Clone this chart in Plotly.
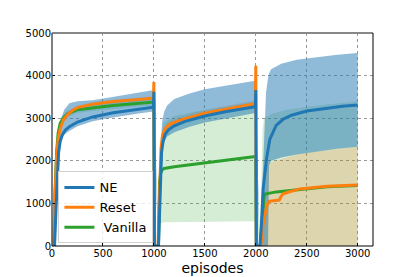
import plotly.graph_objects as go

# ---------------- data (episode, value) ----------------
ne_x = [0, 25, 40, 55, 65, 80, 100, 130, 170, 250, 400, 600, 800, 995, 1000,
        1005, 1045, 1055, 1065, 1075, 1090, 1110, 1140, 1200, 1300, 1500, 1700, 1900, 1995, 2000,
        2005, 2040, 2055, 2072, 2090, 2105, 2137, 2170, 2200, 2270, 2350, 2500, 2700, 2850, 3000]
ne_mean = [0, 0, 900, 1800, 2200, 2450, 2600, 2720, 2800, 2910, 3030, 3130, 3200, 3260, 3620,
           0, 0, 900, 1700, 2200, 2450, 2620, 2720, 2820, 2920, 3050, 3150, 3230, 3270, 3660,
           0, 0, 500, 1340, 1800, 2040, 2500, 2680, 2830, 2980, 3070, 3170, 3240, 3280, 3310]

ne_band_x = [25, 40, 55, 70, 90, 120, 170, 250, 400, 550, 700, 850, 995, 1000,
             1045, 1055, 1065, 1080, 1100, 1130, 1200, 1350, 1500, 1700, 1850, 1995,
             2040, 2055, 2070, 2085, 2100, 2120, 2130, 2150, 2250, 2400, 2600, 2800, 3000]
ne_upper = [0, 1100, 2100, 2700, 3000, 3200, 3350, 3400, 3420, 3480, 3540, 3600, 3660, 3660,
            0, 1200, 2200, 2900, 3150, 3300, 3450, 3580, 3680, 3760, 3830, 3880,
            0, 900, 2000, 3000, 3600, 3950, 4050, 4150, 4280, 4370, 4430, 4490, 4530]
ne_lower = [0, 800, 1700, 2300, 2500, 2620, 2700, 2810, 2930, 3000, 3060, 3110, 3160, 3160,
            0, 800, 1550, 2250, 2450, 2570, 2670, 2800, 2900, 3000, 3060, 3120,
            0, 0, 0, 0, 0, 0, 1900, 2000, 2080, 2150, 2220, 2280, 2330]

reset_x = [0, 15, 30, 45, 60, 80, 110, 150, 200, 250, 400, 600, 800, 995, 1000,
           1005, 1040, 1050, 1060, 1070, 1085, 1110, 1150, 1250, 1500, 1750, 1995, 2000,
           2005, 2050, 2065, 2088, 2110, 2130, 2230, 2245, 2265, 2300, 2350, 2430, 2700, 3000]
reset_mean = [0, 0, 1200, 2100, 2500, 2750, 2950, 3080, 3180, 3250, 3330, 3390, 3430, 3470, 3850,
              0, 0, 900, 1700, 2300, 2600, 2750, 2850, 2950, 3120, 3230, 3340, 4230,
              0, 0, 400, 710, 950, 1050, 1080, 1150, 1220, 1250, 1280, 1340, 1400, 1430]

reset_band_x = [15, 30, 45, 60, 80, 110, 150, 250, 400, 600, 800, 995, 1000,
                1040, 1050, 1060, 1070, 1085, 1110, 1150, 1250, 1500, 1750, 1995,
                2050, 2090, 2110, 2130, 2200, 2400, 2600, 2800, 3000]
reset_upper = [0, 1300, 2200, 2570, 2810, 3010, 3140, 3300, 3380, 3440, 3480, 3520, 3520,
               0, 1000, 1800, 2400, 2700, 2830, 2930, 3030, 3200, 3310, 3420,
               0, 800, 1900, 1950, 2000, 2150, 2220, 2280, 2330]
reset_lower = [0, 1100, 2000, 2430, 2690, 2890, 3020, 3200, 3280, 3340, 3380, 3420, 3420,
               0, 800, 1600, 2200, 2500, 2670, 2770, 2870, 3040, 3150, 3260,
               0, 0, 0, 0, 0, 0, 0, 0, 0]

vanilla_x = [0, 15, 30, 45, 60, 80, 110, 150, 250, 400, 600, 800, 995, 1000,
             1005, 1045, 1055, 1065, 1080, 1100, 1200, 1400, 1600, 1800, 1950, 1995, 2000,
             2005, 2045, 2080, 2090, 2200, 2330, 2450, 2700, 3000]
vanilla_mean = [0, 0, 1300, 2200, 2650, 2880, 3000, 3100, 3200, 3250, 3300, 3340, 3380, 3380,
                0, 0, 1500, 1700, 1780, 1820, 1860, 1920, 1970, 2030, 2070, 2100, 2100,
                0, 0, 1150, 1220, 1270, 1300, 1330, 1390, 1420]

vanilla_band_x = [15, 30, 45, 60, 80, 110, 150, 250, 400, 600, 800, 995, 1000,
                  1045, 1055, 1070, 1100, 1200, 1400, 1600, 1800, 2000,
                  2040, 2050, 2065, 2080, 2150, 2300, 2600, 3000]
vanilla_upper = [0, 1400, 2300, 2740, 2960, 3080, 3180, 3280, 3330, 3380, 3420, 3460, 3460,
                 0, 2000, 2600, 2900, 3050, 3150, 3230, 3320, 3400,
                 0, 1500, 2700, 3000, 3100, 3200, 3300, 3400]
vanilla_lower = [0, 1200, 2100, 2560, 2800, 2920, 3020, 3120, 3170, 3220, 3260, 3300, 3300,
                 0, 500, 540, 560, 560, 565, 570, 575, 580,
                 0, 0, 0, 0, 0, 0, 0, 0]

x_ticks = [0, 500, 1000, 1500, 2000, 2500, 3000]
y_ticks = [0, 1000, 2000, 3000, 4000, 5000]

BLUE, ORANGE, GREEN = "#1f77b4", "#ff7f0e", "#2ca02c"
FONT = "DejaVu Sans"

fig = go.Figure()


def band(xs, up, lo, color):
    fig.add_trace(go.Scatter(
        x=list(xs) + list(xs)[::-1], y=list(up) + list(lo)[::-1],
        fill="toself", fillcolor=color, line=dict(width=0),
        mode="lines", hoverinfo="skip", showlegend=False))


band(vanilla_band_x, vanilla_upper, vanilla_lower, "rgba(44,160,44,0.2)")
band(reset_band_x, reset_upper, reset_lower, "rgba(255,127,14,0.2)")
band(ne_band_x, ne_upper, ne_lower, "rgba(31,119,180,0.5)")

fig.add_trace(go.Scatter(x=vanilla_x, y=vanilla_mean, mode="lines", name="\u00a0Vanilla",
                         line=dict(color=GREEN, width=3)))
fig.add_trace(go.Scatter(x=reset_x, y=reset_mean, mode="lines", name="Reset",
                         line=dict(color=ORANGE, width=3)))
fig.add_trace(go.Scatter(x=ne_x, y=ne_mean, mode="lines", name="NE",
                         line=dict(color=BLUE, width=3)))

axis_common = dict(
    showgrid=True, gridcolor="#9a9a9a", griddash="dot", gridwidth=0.8,
    zeroline=False, showline=False, ticks="inside", ticklen=3, tickcolor="black",
    tickfont=dict(family=FONT, size=10, color="black"),
)

fig.update_xaxes(range=[0, 3150], tickvals=x_ticks, ticktext=[str(v) for v in x_ticks],
                 title=dict(text="episodes", font=dict(family=FONT, size=14, color="black"),
                            standoff=5),
                 automargin=False, **axis_common)
fig.update_yaxes(range=[0, 5000], tickvals=y_ticks, ticktext=[str(v) for v in y_ticks],
                 automargin=False, **axis_common)

# page body adds an 8px offset, so the figure is sized to land the plot area in place
fig.update_layout(
    width=407, height=269,
    margin=dict(l=44, r=42, t=25, b=31),
    paper_bgcolor="white", plot_bgcolor="white",
    font=dict(family=FONT, color="black"),
    legend=dict(x=0.02, y=0.35, xanchor="left", yanchor="top",
                traceorder="reversed", bgcolor="rgba(255,255,255,0.8)",
                bordercolor="#d0d0d0", borderwidth=1,
                font=dict(family=FONT, size=13, color="black"),
                itemwidth=30, tracegroupgap=0),
    shapes=[
        dict(type="line", xref="paper", yref="paper", x0=0, x1=1, y0=1, y1=1,
             line=dict(color="#888888", width=2), layer="above"),
        dict(type="line", xref="paper", yref="paper", x0=0, x1=0, y0=0, y1=1,
             line=dict(color="#555555", width=1.5), layer="above"),
        dict(type="line", xref="paper", yref="paper", x0=0, x1=1, y0=0, y1=0,
             line=dict(color="black", width=1.2), layer="above"),
        dict(type="line", xref="paper", yref="paper", x0=1, x1=1, y0=0, y1=1,
             line=dict(color="black", width=1), layer="above"),
    ],
)

fig.write_html("out.html")
